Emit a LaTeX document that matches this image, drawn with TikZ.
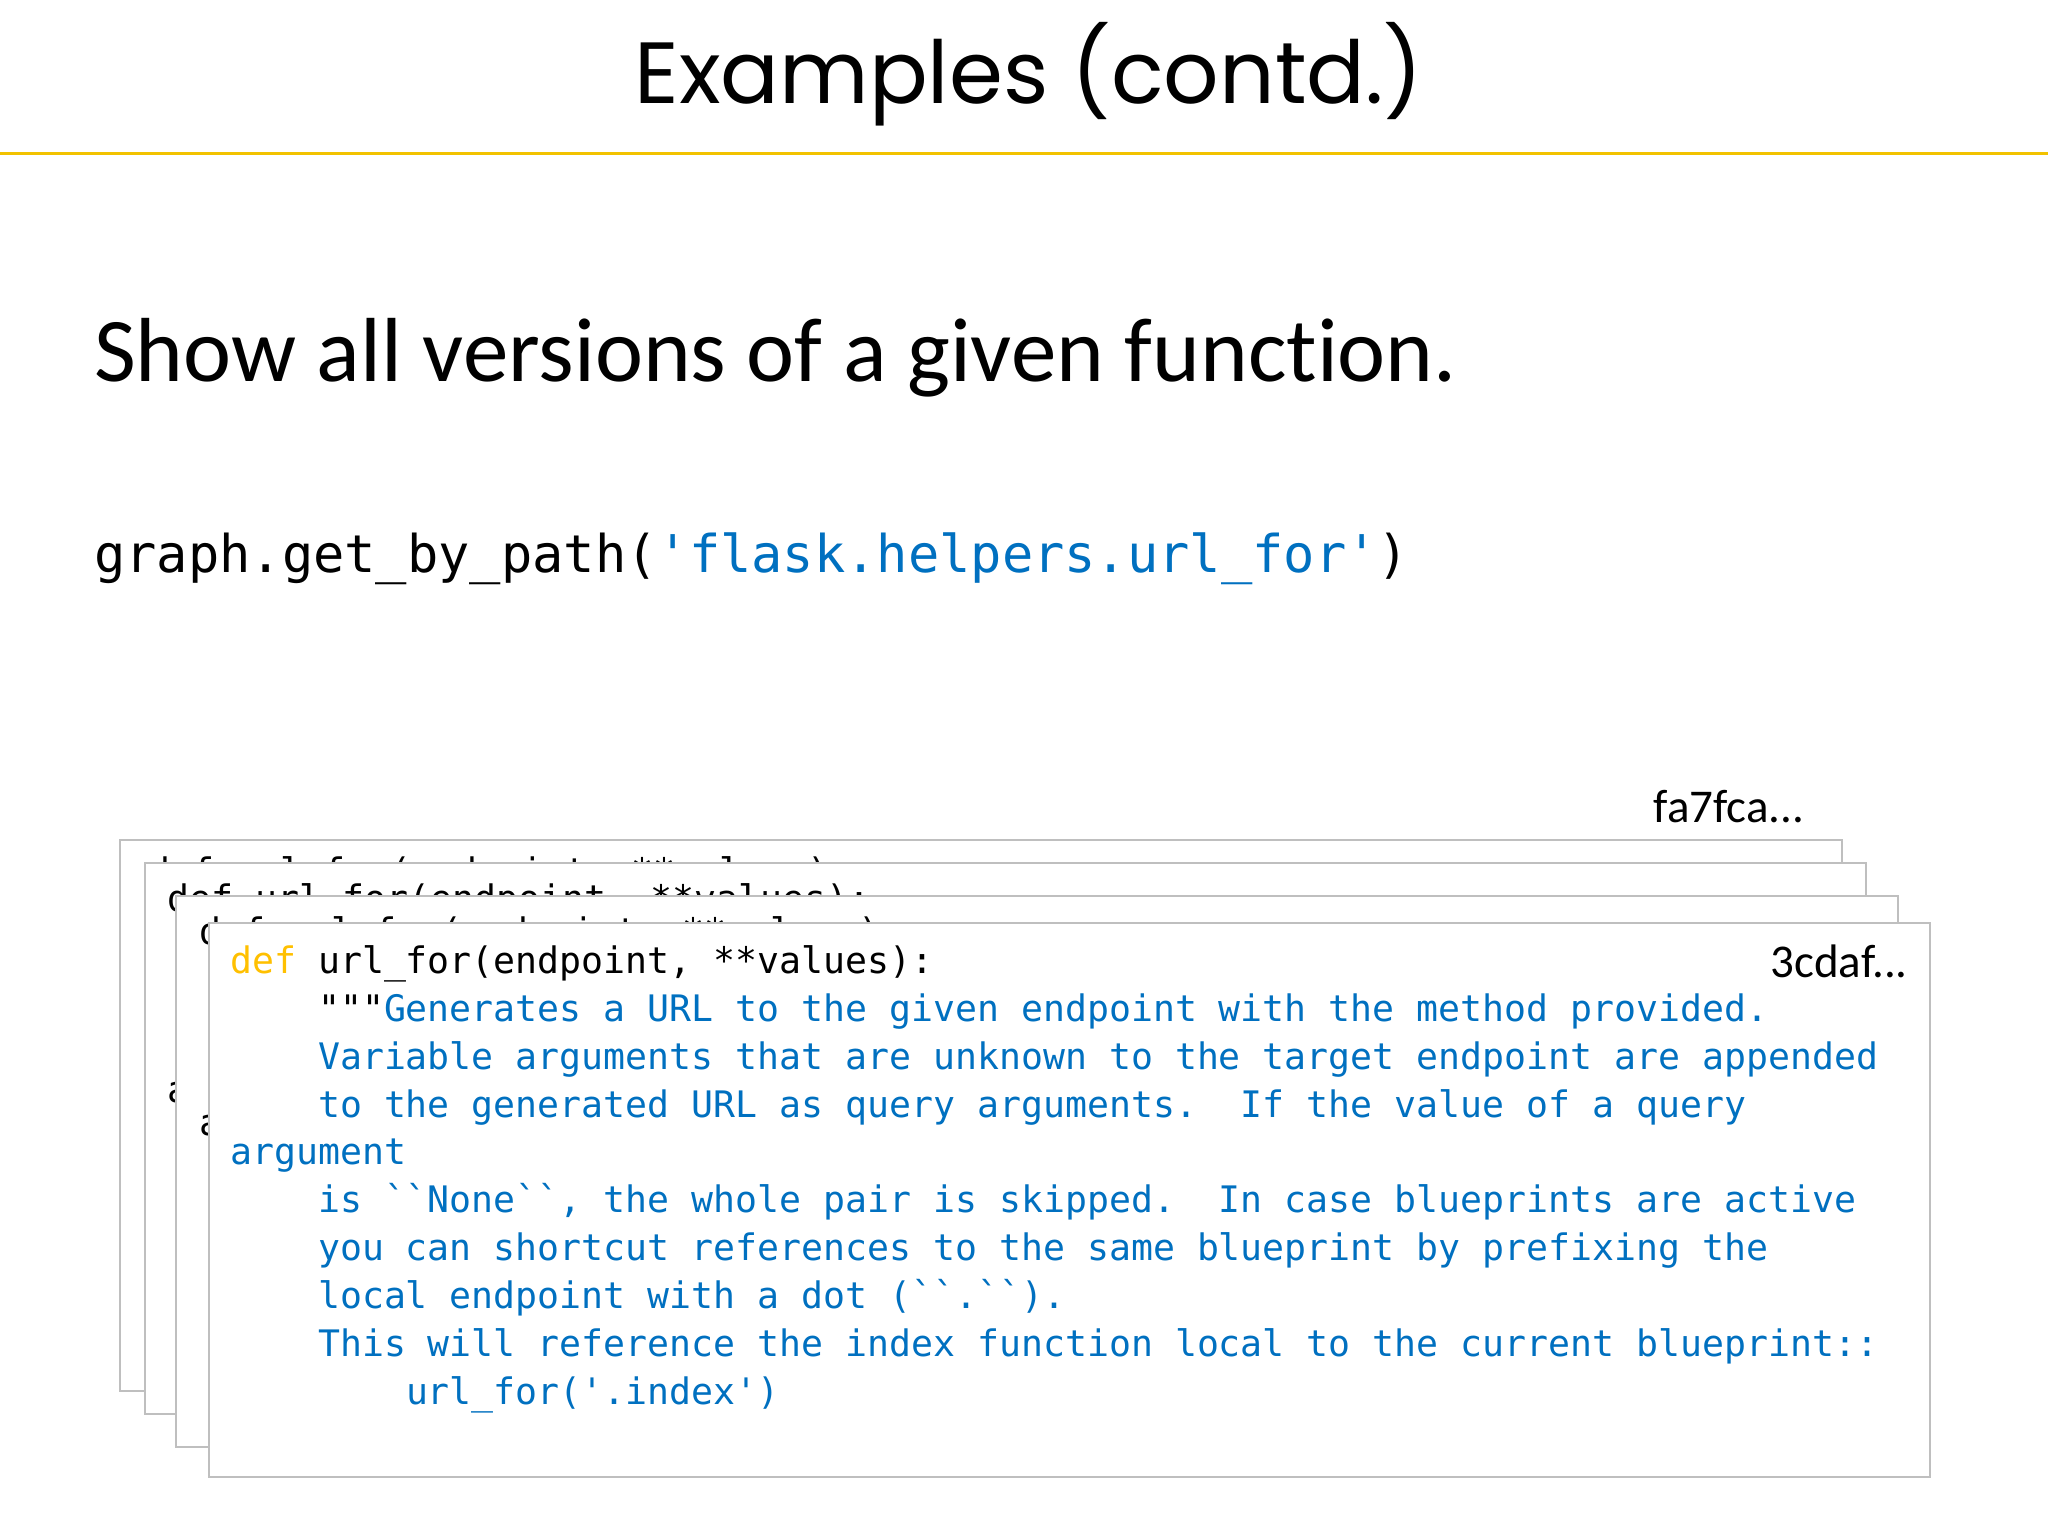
\documentclass[tikz,border=0pt]{standalone}
\usepackage{fontspec}
\usepackage{graphicx}
\setmainfont{Carlito}[Ligatures=NoCommon]
\setmonofont{DejaVu Sans Mono}
\newfontfamily\titlefont{Poppins}
\definecolor{codeblue}{HTML}{0070C0}
\definecolor{kwgold}{HTML}{FFC000}
\definecolor{rulegold}{HTML}{F2C200}
\definecolor{cardgray}{HTML}{BFBFBF}
\newcommand\bq{\char96\relax}
\begin{document}
\begin{tikzpicture}[x=1pt,y=-1pt,
  card/.style={draw=cardgray,line width=2pt,fill=white},
  codeline/.style={anchor=base west,inner sep=0pt,font=\fontsize{36.5}{40}\ttfamily},
  hash/.style={inner sep=0pt,font=\fontsize{47}{50}\selectfont}]
\useasboundingbox (0,0) rectangle (2048,1536);
\fill[white] (0,0) rectangle (2048,1536);
\node[anchor=base,inner sep=0pt] (title) at (1029,104) {\resizebox{788pt}{!}{\titlefont Examples (contd.)}};
\draw[rulegold,line width=3pt] (0,154) -- (2048,154);
\node[anchor=base west,inner sep=0pt,font=\fontsize{91}{96}\selectfont] (head) at (94,381) {Show all versions of a given function.};
\node[anchor=base west,inner sep=0pt,font=\fontsize{52}{56}\ttfamily] (call) at (94,572) {graph.get\_by\_path(\textcolor{codeblue}{'flask.helpers.url\_for'})};
\node[hash,anchor=base] (h1) at (1729,822) {fa7fca...};
% card 1
\draw[card] (120,840) rectangle (1842,1391);
\node[codeline] (c1a) at (148,884) {def url\_for(endpoint, **values):};
% card 2
\draw[card] (145,863) rectangle (1866,1414);
\node[codeline] (c2a) at (167,911) {def url\_for(endpoint, **values):};
\node[codeline] (c2b) at (167,1102) {argument};
% card 3
\draw[card] (176,896) rectangle (1898,1447);
\node[codeline] (c3a) at (199,944) {def url\_for(endpoint, **values):};
\node[codeline] (c3b) at (199,1135) {argument};
% card 4
\draw[card] (209,923) rectangle (1930,1477);
\node[hash,anchor=base east] (h4) at (1908,977) {3cdaf...};
\node[codeline] (l0) at (230,973) {\textcolor{kwgold}{def} url\_for(endpoint, **values):};
\node[codeline] (l1) at (230,1021) {\phantom{xxxx}"""\textcolor{codeblue}{Generates a URL to the given endpoint with the method provided.}};
\node[codeline,text=codeblue] (l2) at (230,1069) {\phantom{xxxx}Variable arguments that are unknown to the target endpoint are appended};
\node[codeline,text=codeblue] (l3) at (230,1117) {\phantom{xxxx}to the generated URL as query arguments.\ \ If the value of a query};
\node[codeline,text=codeblue] (l4) at (230,1164) {argument};
\node[codeline,text=codeblue] (l5) at (230,1212) {\phantom{xxxx}is \bq\bq None\bq\bq, the whole pair is skipped.\ \ In case blueprints are active};
\node[codeline,text=codeblue] (l6) at (230,1260) {\phantom{xxxx}you can shortcut references to the same blueprint by prefixing the};
\node[codeline,text=codeblue] (l7) at (230,1308) {\phantom{xxxx}local endpoint with a dot (\bq\bq.\bq\bq).};
\node[codeline,text=codeblue] (l8) at (230,1356) {\phantom{xxxx}This will reference the index function local to the current blueprint::};
\node[codeline,text=codeblue] (l9) at (230,1404) {\phantom{xxxxxxxx}url\_for('.index')};
\end{tikzpicture}
\end{document}
